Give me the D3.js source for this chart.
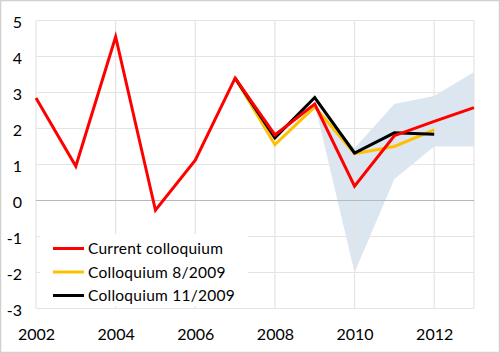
<!DOCTYPE html>
<html><head><meta charset="utf-8">
<script src="https://cdn.jsdelivr.net/npm/d3@7"></script>
<style>
html,body{margin:0;padding:0;background:#fff;}
svg{display:block;font-family:Lato,"Open Sans",sans-serif;}
</style></head>
<body>
<svg id="chart" width="500" height="353"></svg>
<script>
const years = [2002,2003,2004,2005,2006,2007,2008,2009,2010,2011,2012,2013];
const current = [2.85,0.95,4.55,-0.27,1.12,3.4,1.82,2.68,0.4,1.8,2.2,2.58];
const collYears = [2007,2008,2009,2010,2011,2012];
const coll8 = [3.4,1.55,2.6,1.3,1.5,1.96];
const coll11 = [3.4,1.74,2.86,1.32,1.88,1.84];
const bandYears = [2009,2010,2011,2012,2013];
const bandLow = [2.68,-2.0,0.6,1.5,1.5];
const bandHigh = [2.68,1.45,2.68,2.9,3.57];
const yTicks = [-3,-2,-1,0,1,2,3,4,5];
const xTicks = [2002,2004,2006,2008,2010,2012];
const seriesNames = ["Current colloquium","Colloquium 8/2009","Colloquium 11/2009"];
const seriesColors = ["#ff0000","#ffc000","#000000"];

const svg = d3.select("#chart");
const W = 500, H = 353;
const L = 36, R = 474, T = 20.5, B = 308.5;
const x = d3.scaleLinear().domain([2002,2013]).range([L,R]);
const y = d3.scaleLinear().domain([-3,5]).range([B,T]);

// outer border
svg.append("rect").attr("x",0.5).attr("y",0.5).attr("width",W-1).attr("height",H-1)
  .attr("fill","#fff").attr("stroke","#d0d0d0").attr("stroke-width",1.5);

// band
const bandData = bandYears.map((yr,i)=>({yr,lo:bandLow[i],hi:bandHigh[i]}));
svg.append("path").datum(bandData)
  .attr("fill","#dce6f0")
  .attr("d", d3.area().x(d=>x(d.yr)).y0(d=>y(d.lo)).y1(d=>y(d.hi)));

// gridlines
const g = svg.append("g");
g.selectAll("line.h").data(yTicks.filter(v=>v!==0)).join("line")
  .attr("x1",L).attr("x2",R).attr("y1",d=>y(d)).attr("y2",d=>y(d))
  .attr("stroke","#e4e4e4").attr("stroke-width",1.2);
g.selectAll("line.v").data(xTicks).join("line")
  .attr("y1",T).attr("y2",B).attr("x1",d=>x(d)).attr("x2",d=>x(d))
  .attr("stroke","#e4e4e4").attr("stroke-width",1.2);
g.append("line").attr("x1",R).attr("x2",R).attr("y1",T).attr("y2",B)
  .attr("stroke","#e4e4e4").attr("stroke-width",1.2);
g.append("line").attr("x1",L).attr("x2",R).attr("y1",y(0)).attr("y2",y(0))
  .attr("stroke","#b8b8b8").attr("stroke-width",1.2);

// axes
const yAxis = svg.append("g").attr("transform",`translate(${L},0)`)
  .call(d3.axisLeft(y).tickValues(yTicks).tickSize(0).tickPadding(14).tickFormat(d=>String(d)));
yAxis.select(".domain").remove();
yAxis.selectAll("text").attr("dy","0.45em").attr("font-size",16).attr("fill","#000").attr("font-family","Lato,'Open Sans',sans-serif");

const xAxis = svg.append("g").attr("transform",`translate(0,${B})`)
  .call(d3.axisBottom(x).tickValues(xTicks).tickSize(0).tickPadding(20).tickFormat(d=>String(d)));
xAxis.select(".domain").remove();
xAxis.selectAll("text").attr("font-size",16).attr("fill","#000").attr("font-family","Lato,'Open Sans',sans-serif");

// lines
const line = d3.line().x(d=>x(d[0])).y(d=>y(d[1]));
const series = [
  {data: collYears.map((yr,i)=>[yr,coll8[i]]), color: seriesColors[1]},
  {data: collYears.map((yr,i)=>[yr,coll11[i]]), color: seriesColors[2]},
  {data: years.map((yr,i)=>[yr,current[i]]), color: seriesColors[0]}
];
svg.selectAll("path.series").data(series).join("path")
  .attr("class","series")
  .attr("fill","none").attr("stroke",d=>d.color).attr("stroke-width",3)
  .attr("stroke-linejoin","miter").attr("d",d=>line(d.data));

// legend
const leg = svg.append("g");
leg.append("rect").attr("x",40).attr("y",234).attr("width",208).attr("height",72).attr("fill","#fff");
const items = leg.selectAll("g.item").data(seriesNames).join("g")
  .attr("transform",(d,i)=>`translate(0,${248.5 + i*23.5})`);
items.append("line").attr("x1",53).attr("x2",84).attr("y1",0).attr("y2",0)
  .attr("stroke",(d,i)=>seriesColors[i]).attr("stroke-width",3);
items.append("text").attr("x",88).attr("y",0).attr("dy","0.36em")
  .attr("font-size",15.5).attr("letter-spacing",0.25).attr("fill","#000").text(d=>d);
</script>
</body></html>
